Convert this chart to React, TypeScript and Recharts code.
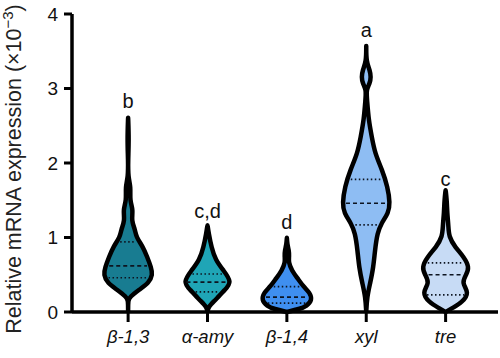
import React from "react";
import { ComposedChart, XAxis, YAxis, Scatter, LabelList, Label } from "recharts";

const genes = ["β-1,3", "α-amy", "β-1,4", "xyl", "tre"];
const fills = ["#187c91", "#1fa5b6", "#3f8ff0", "#8ebdf3", "#c7dbf5"];
const letters = ["b", "c,d", "d", "a", "c"];
const letterLevels = [2.83, 1.36, 1.21, 3.78, 1.79];
const medians = [0.62, 0.4, 0.2, 1.46, 0.5];
const upperQuartiles = [0.94, 0.51, 0.34, 1.78, 0.66];
const lowerQuartiles = [0.46, 0.27, 0.12, 1.17, 0.23];

// [expression level, half width of the violin in category units]
const beta13 = [
  [0, 0], [0.16, 0], [0.2, 0.02], [0.3, 0.14], [0.39, 0.26], [0.5, 0.31], [0.6, 0.29],
  [0.74, 0.24], [0.87, 0.19], [1.01, 0.1], [1.1, 0.09], [1.23, 0.04], [1.37, 0.065],
  [1.5, 0.02], [1.68, 0.035], [1.81, 0], [2.04, 0], [2.31, 0.01], [2.62, 0],
];
const alphaAmy = [
  [0, 0], [0.07, 0.01], [0.16, 0.1], [0.3, 0.22], [0.4, 0.31], [0.56, 0.2], [0.7, 0.1],
  [0.87, 0.05], [1.06, 0.015], [1.17, 0],
];
const beta14 = [
  [0, 0], [0.04, 0.16], [0.08, 0.25], [0.16, 0.32], [0.26, 0.29], [0.34, 0.21], [0.43, 0.15],
  [0.56, 0.06], [0.67, 0.02], [0.75, 0.03], [0.83, 0.025], [0.91, 0.005], [1.0, 0],
];
const xyl = [
  [0, 0], [0.2, 0.01], [0.39, 0.05], [0.6, 0.09], [0.83, 0.11], [1.06, 0.14], [1.19, 0.19],
  [1.33, 0.28], [1.46, 0.3], [1.68, 0.27], [1.91, 0.2], [2.13, 0.11], [2.35, 0.07],
  [2.58, 0.03], [2.85, 0.01], [2.98, 0], [3.07, 0.045], [3.15, 0.06], [3.25, 0.045],
  [3.36, 0], [3.58, 0],
];
const tre = [
  [0, 0], [0.05, 0.08], [0.13, 0.21], [0.26, 0.3], [0.39, 0.2], [0.5, 0.26], [0.6, 0.3],
  [0.74, 0.23], [0.87, 0.12], [1.01, 0.04], [1.17, 0.035], [1.33, 0.02], [1.5, 0.015],
  [1.64, 0],
];
const profiles = [beta13, alphaAmy, beta14, xyl, tre];

const yTicks = [0, 1, 2, 3, 4];
const xTicks = [0, 1, 2, 3, 4];

const FONT = "'Liberation Sans', Arial, sans-serif";

function outline(i: number, prof: number[][]) {
  const left = prof.map(([y, w]) => ({ x: i - w, y }));
  const right = [...prof].reverse().map(([y, w]) => ({ x: i + w, y }));
  return [...left, ...right];
}

function halfWidthAt(prof: number[][], y: number) {
  for (let k = 1; k < prof.length; k++) {
    const [y0, w0] = prof[k - 1];
    const [y1, w1] = prof[k];
    if (y >= y0 && y <= y1) return w0 + ((w1 - w0) * (y - y0)) / (y1 - y0 || 1);
  }
  return 0;
}

const letterData = letters.map((t, i) => ({ x: i, y: letterLevels[i], t }));

const quartileLines = profiles.flatMap((prof, i) =>
  [
    { q: medians[i], dash: "4 3" },
    { q: upperQuartiles[i], dash: "1.5 2.5" },
    { q: lowerQuartiles[i], dash: "1.5 2.5" },
  ].map(({ q, dash }) => {
    const w = Math.max(halfWidthAt(prof, q) - 0.045, 0.01);
    return { dash, points: [{ x: i - w, y: q }, { x: i + w, y: q }] };
  })
);

const noShape = () => <g />;

const renderYLabel = (props: any) => {
  const vb = props.viewBox || { x: 0, y: 14, width: 72, height: 298 };
  const cx = vb.x + 14;
  const cy = vb.y + vb.height / 2 + 6;
  return (
    <text
      x={cx}
      y={cy}
      transform={`rotate(-90, ${cx}, ${cy})`}
      textAnchor="middle"
      dominantBaseline="central"
      fontSize={21.5}
      fontFamily={FONT}
      fill="#222"
    >
      Relative mRNA expression (×10
      <tspan dy={-7} fontSize={15}>−3</tspan>
      <tspan dy={7}>)</tspan>
    </text>
  );
};

export default function App() {
  return (
    <div style={{ position: "absolute", left: 0, top: 0, background: "#fff" }}>
      <ComposedChart width={500} height={358} margin={{ top: 14, right: 2, bottom: 0, left: 0 }}>
        <XAxis
          dataKey="x"
          type="number"
          domain={[-0.707, 4.66]}
          allowDataOverflow
          ticks={xTicks}
          tickFormatter={(v: number) => genes[v] ?? ""}
          height={46}
          axisLine={{ stroke: "#000", strokeWidth: 3.5 }}
          tickLine={{ stroke: "#000", strokeWidth: 3 }}
          tickSize={10}
          tickMargin={8}
          tick={{ fontSize: 18.5, fontStyle: "italic", fill: "#111", fontFamily: FONT }}
        />
        <YAxis
          dataKey="y"
          type="number"
          domain={[0, 4]}
          ticks={yTicks}
          width={72}
          axisLine={{ stroke: "#000", strokeWidth: 3.5 }}
          tickLine={{ stroke: "#000", strokeWidth: 3 }}
          tickSize={8}
          tickMargin={6}
          tick={{ fontSize: 19, fill: "#111", fontFamily: FONT }}
        >
          <Label content={renderYLabel} />
        </YAxis>
        {profiles.map((prof, i) => (
          <Scatter
            key={genes[i]}
            data={outline(i, prof)}
            shape={noShape}
            line={{ fill: fills[i], stroke: "#000", strokeWidth: 4.5, strokeLinejoin: "round" }}
            lineJointType="basis"
            isAnimationActive={false}
          />
        ))}
        {quartileLines.map((ql, k) => (
          <Scatter
            key={`q${k}`}
            data={ql.points}
            shape={noShape}
            line={{ stroke: "#0d1420", strokeWidth: 1.7, strokeDasharray: ql.dash, fill: "none" }}
            isAnimationActive={false}
          />
        ))}
        <Scatter data={letterData} shape={noShape} isAnimationActive={false}>
          <LabelList dataKey="t" position="center" fontSize={20} fill="#111" fontFamily={FONT} />
        </Scatter>
      </ComposedChart>
    </div>
  );
}
